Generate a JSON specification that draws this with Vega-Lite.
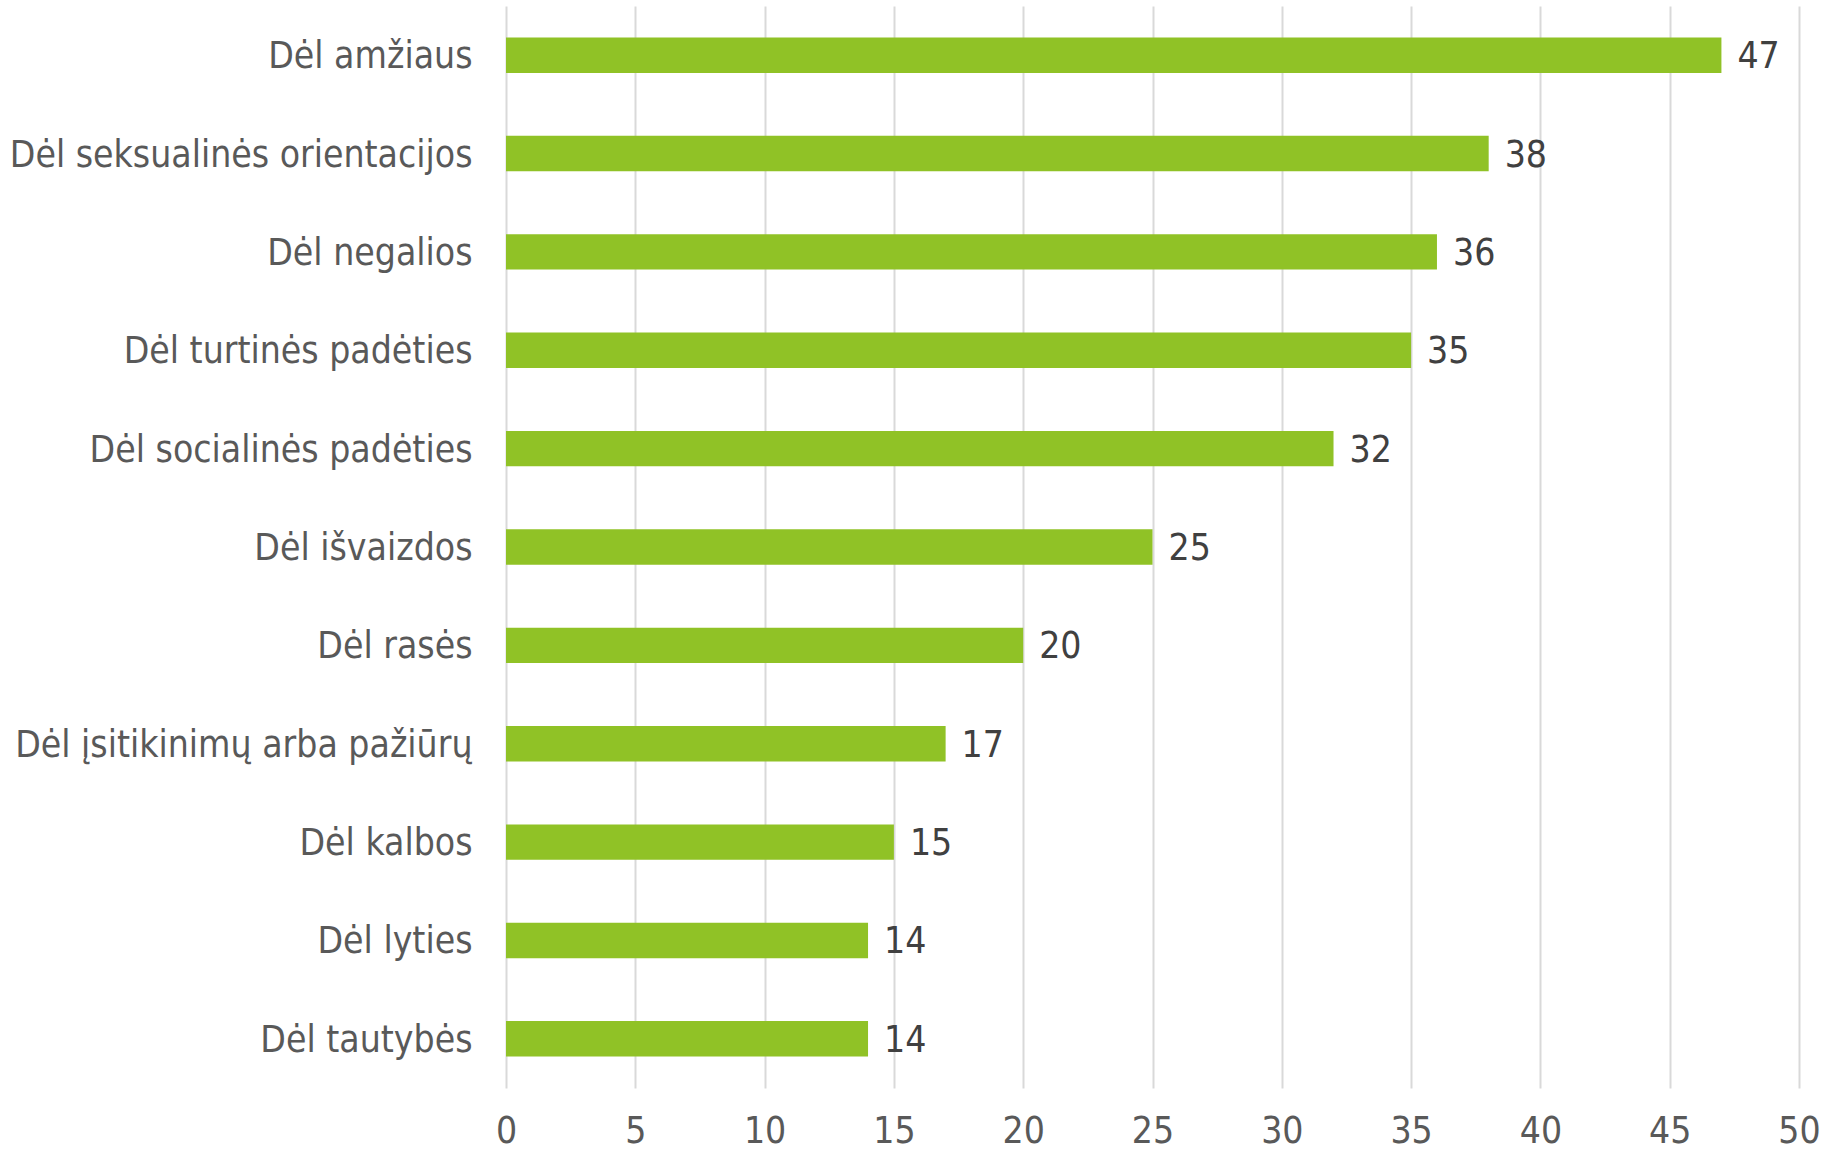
{
  "$schema": "https://vega.github.io/schema/vega-lite/v6.json",
  "autosize": {"type": "none"},
  "padding": {"left": 506, "top": 6, "right": 25, "bottom": 65},
  "width": 1293,
  "height": 1082,
  "background": "white",
  "data": {
    "values": [
      {"priezastis": "Dėl amžiaus", "proc": 47},
      {"priezastis": "Dėl seksualinės orientacijos", "proc": 38},
      {"priezastis": "Dėl negalios", "proc": 36},
      {"priezastis": "Dėl turtinės padėties", "proc": 35},
      {"priezastis": "Dėl socialinės padėties", "proc": 32},
      {"priezastis": "Dėl išvaizdos", "proc": 25},
      {"priezastis": "Dėl rasės", "proc": 20},
      {"priezastis": "Dėl įsitikinimų arba pažiūrų", "proc": 17},
      {"priezastis": "Dėl kalbos", "proc": 15},
      {"priezastis": "Dėl lyties", "proc": 14},
      {"priezastis": "Dėl tautybės", "proc": 14}
    ]
  },
  "encoding": {
    "y": {
      "field": "priezastis",
      "type": "nominal",
      "sort": null,
      "scale": {"paddingInner": 0.64, "paddingOuter": 0.32},
      "axis": {
        "title": null,
        "domain": false,
        "ticks": false,
        "grid": false,
        "labelFont": "DejaVu Sans Condensed, sans-serif",
        "labelFontSize": 37,
        "labelColor": "#595959",
        "labelPadding": 34,
        "labelLimit": 800,
        "labelOffset": 2
      }
    },
    "x": {
      "field": "proc",
      "type": "quantitative",
      "scale": {"domain": [0, 50], "nice": false},
      "axis": {
        "title": null,
        "values": [0, 5, 10, 15, 20, 25, 30, 35, 40, 45, 50],
        "domain": false,
        "ticks": false,
        "grid": true,
        "gridColor": "#d9d9d9",
        "gridWidth": 2,
        "labelFont": "DejaVu Sans Condensed, sans-serif",
        "labelFontSize": 37,
        "labelColor": "#595959",
        "labelPadding": 25,
        "labelFlush": false
      }
    }
  },
  "layer": [
    {"mark": {"type": "bar", "color": "#90c226"}},
    {
      "mark": {
        "type": "text",
        "align": "left",
        "baseline": "middle",
        "dx": 16,
        "dy": 2,
        "font": "DejaVu Sans Condensed, sans-serif",
        "fontSize": 37,
        "color": "#404040"
      },
      "encoding": {"text": {"field": "proc", "type": "quantitative"}}
    }
  ],
  "config": {"view": {"stroke": null}}
}
